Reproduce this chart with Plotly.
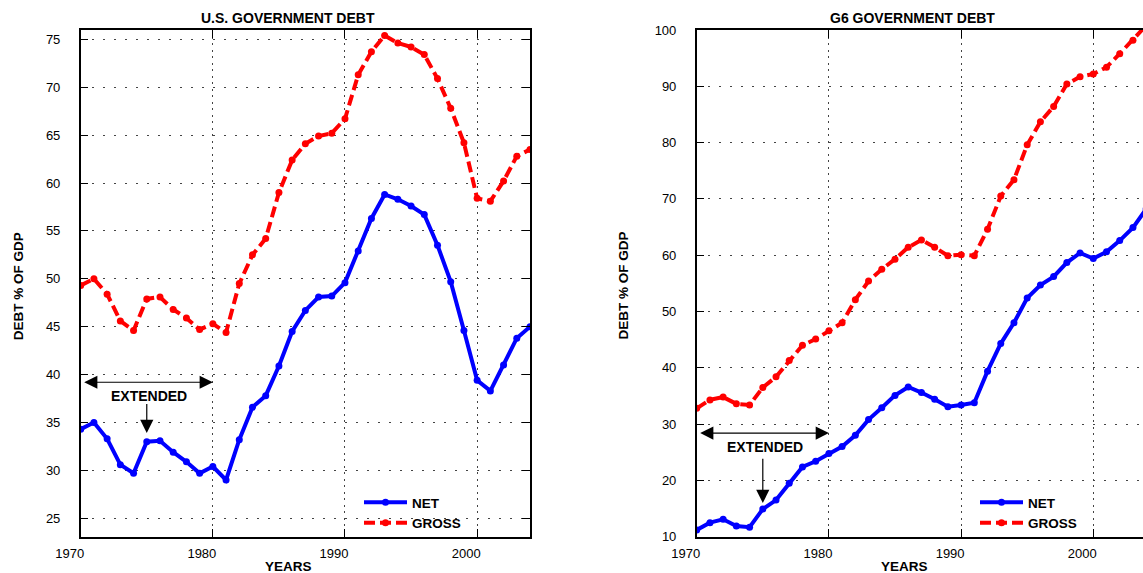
import plotly.graph_objects as go

# ---------------- data ----------------
years = list(range(1970, 2005))

us_net = [34.3, 35.0, 33.3, 30.6, 29.7, 33.0, 33.1, 31.9, 30.9, 29.7,
          30.4, 29.0, 33.2, 36.6, 37.8, 40.9, 44.5, 46.7, 48.1, 48.2,
          49.6, 52.9, 56.3, 58.8, 58.3, 57.6, 56.7, 53.5, 49.7, 44.6,
          39.4, 38.3, 41.0, 43.8, 45.0]
us_gross = [49.3, 50.0, 48.4, 45.6, 44.6, 47.9, 48.1, 46.8, 45.9, 44.7,
            45.3, 44.4, 49.5, 52.5, 54.2, 59.0, 62.4, 64.1, 64.9, 65.2,
            66.7, 71.3, 73.7, 75.4, 74.6, 74.2, 73.4, 70.9, 67.8, 64.2,
            58.4, 58.1, 60.2, 62.8, 63.5]

g6_net = [11.2, 12.5, 13.1, 11.9, 11.7, 14.9, 16.5, 19.5, 22.4, 23.4,
          24.8, 26.0, 28.0, 30.8, 32.9, 35.1, 36.6, 35.6, 34.4, 33.1,
          33.4, 33.8, 39.4, 44.3, 48.0, 52.4, 54.7, 56.2, 58.7, 60.4,
          59.4, 60.6, 62.6, 64.9, 68.2]
g6_gross = [32.8, 34.3, 34.8, 33.6, 33.4, 36.5, 38.4, 41.3, 44.0, 45.1,
            46.6, 48.0, 52.1, 55.4, 57.5, 59.3, 61.4, 62.7, 61.4, 59.9,
            60.1, 59.9, 64.6, 70.5, 73.4, 79.6, 83.7, 86.4, 90.4, 91.7,
            92.2, 93.4, 95.8, 98.2, 100.8]

series_names = ["NET", "GROSS"]
titles = ["U.S. GOVERNMENT DEBT", "G6 GOVERNMENT DEBT"]
x_title = "YEARS"
y_title = "DEBT % OF GDP"
note = "EXTENDED"

# ---------------- styling ----------------
W, H = 1143, 573
FONT = "Liberation Sans, Arial, sans-serif"
BLUE = "#0000ff"
RED = "#ff0000"

fig = go.Figure()

def add_pair(xa, ya, leg, net, gross):
    fig.add_trace(go.Scatter(
        x=years, y=net, mode="lines+markers", name=series_names[0],
        line=dict(color=BLUE, width=4), marker=dict(size=7, color=BLUE),
        xaxis=xa, yaxis=ya, legend=leg))
    fig.add_trace(go.Scatter(
        x=years, y=gross, mode="lines+markers", name=series_names[1],
        line=dict(color=RED, width=4, dash="11px,5px"),
        marker=dict(size=7, color=RED),
        xaxis=xa, yaxis=ya, legend=leg))

add_pair("x", "y", "legend", us_net, us_gross)
add_pair("x2", "y2", "legend2", g6_net, g6_gross)

ydom = [(H - 536.7) / H, (H - 30) / H]

axis_common = dict(
    showline=True, linecolor="black", linewidth=1.5,
    ticks="inside", ticklen=8, tickwidth=1, tickcolor="black",
    showgrid=True, gridcolor="#444444", gridwidth=1,
    zeroline=False, automargin=False,
    tickfont=dict(size=13, family=FONT, color="black"),
)

xcommon = dict(axis_common, dtick=10, tick0=1970, griddash="2px,4.5px",
               ticklabelshift=-11, ticklabelstandoff=4)
ycommon = dict(axis_common, griddash="2px,9px", ticklabelstandoff=16)

legend_style = dict(xanchor="left", yanchor="top", bgcolor="rgba(0,0,0,0)",
                    itemwidth=43, tracegroupgap=0,
                    font=dict(size=13.5, family=FONT, color="black", weight="bold"))

fig.update_layout(
    template="none",
    width=W, height=H, autosize=False,
    margin=dict(l=0, r=0, t=0, b=0, pad=0, autoexpand=False),
    paper_bgcolor="white", plot_bgcolor="white",
    font=dict(family=FONT, color="black"),
    xaxis=dict(xcommon, domain=[80.7 / W, 530 / W], range=[1970, 2004],
               anchor="y", mirror="ticks"),
    yaxis=dict(ycommon, domain=ydom, range=[23.08, 75.97], dtick=5,
               anchor="x", mirror="ticks"),
    xaxis2=dict(xcommon, domain=[696.7 / W, 1.0], range=[1970, 2003.76],
                anchor="y2", mirror="ticks"),
    yaxis2=dict(ycommon, domain=ydom, range=[10, 100], dtick=10,
                anchor="x2", mirror=False),
    legend=dict(legend_style, x=359 / W, y=(H - 487) / H),
    legend2=dict(legend_style, x=975 / W, y=(H - 487) / H),
    showlegend=True,
)

bold_t = dict(size=14, family=FONT, color="black", weight="bold")
bold_a = dict(size=13.5, family=FONT, color="black", weight="bold")
bold_n = dict(size=14, family=FONT, color="black", weight="bold")

ann = []
# panel titles
ann.append(dict(text=titles[0], x=288 / W, y=(H - 18.3) / H, xref="paper", yref="paper",
                showarrow=False, font=bold_t, xanchor="center", yanchor="middle"))
ann.append(dict(text=titles[1], x=912 / W, y=(H - 18.3) / H, xref="paper", yref="paper",
                showarrow=False, font=bold_t, xanchor="center", yanchor="middle"))
# axis titles
for xc in (288, 904):
    ann.append(dict(text=x_title, x=xc / W, y=(H - 566.7) / H, xref="paper", yref="paper",
                    showarrow=False, font=bold_a, xanchor="center", yanchor="middle"))
for xc in (18.3, 622.5):
    ann.append(dict(text=y_title, x=xc / W, y=(H - 286) / H, xref="paper", yref="paper",
                    showarrow=False, font=bold_a, textangle=-90,
                    xanchor="center", yanchor="middle"))

# EXTENDED notes
def extended(xr, yr, y_span, y_text, y_tail, y_tip):
    ann.append(dict(text="", x=1980.0, y=y_span, ax=1970.15, ay=y_span,
                    xref=xr, yref=yr, axref=xr, ayref=yr,
                    showarrow=True, arrowside="end+start", arrowhead=2,
                    startarrowhead=2, arrowwidth=1.2, arrowsize=2.2,
                    startarrowsize=2.2, arrowcolor="black"))
    ann.append(dict(text=note, x=1975.2, y=y_text, xref=xr, yref=yr,
                    showarrow=False, font=bold_n, xanchor="center", yanchor="middle"))
    ann.append(dict(text="", x=1975.0, y=y_tip, ax=1975.0, ay=y_tail,
                    xref=xr, yref=yr, axref=xr, ayref=yr,
                    showarrow=True, arrowhead=2, arrowwidth=1.2, arrowsize=2.2,
                    arrowcolor="black"))

extended("x", "y", 39.2, 37.8, 37.1, 33.9)
extended("x2", "y2", 28.4, 26.0, 24.1, 16.0)

fig.update_layout(annotations=ann)

fig.write_html("out.html",
               config={"displayModeBar": False},
               post_script="document.body.style.margin='0px';document.body.style.overflow='hidden';")
